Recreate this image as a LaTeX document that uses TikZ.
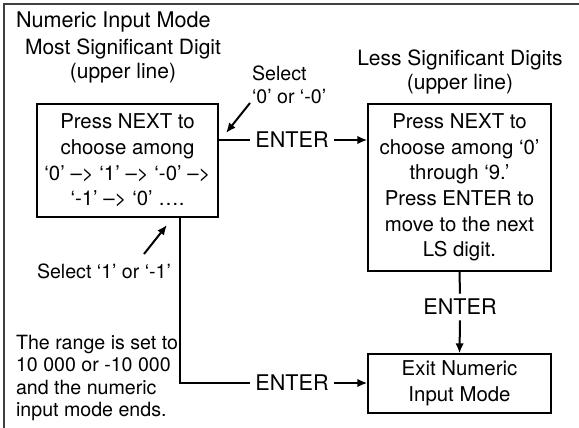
\documentclass[tikz,border=0pt]{standalone}
\usepackage{fontspec}
\setmainfont{TeX Gyre Heros}
\usetikzlibrary{arrows.meta}
\tikzset{
    box/.style={draw, line width=0.6pt, align=center, inner sep=0pt, font=\fontsize{10.2}{12.8}\selectfont},
    flow/.style={line width=1pt},
    tip/.style={-{Latex[length=5pt,width=4.2pt]}},
    key/.style={inner sep=2.5pt, font=\fontsize{10.8}{12}\selectfont},
    head/.style={align=center, font=\fontsize{10.5}{11.8}\selectfont},
    note/.style={font=\fontsize{9.8}{11.2}\selectfont}
}

\begin{document}
\begin{tikzpicture}[x=0.5pt,y=-0.5pt]
\useasboundingbox (0,0) rectangle (579,428);
\draw[line width=0.9pt, black!75] (4,428) -- (4,4) -- (579,4);
% headings
\node[anchor=west, font=\fontsize{10.8}{12}\selectfont] (mode) at (9,22) {Numeric Input Mode};
\node[head] (msd) at (123,61) {Most Significant Digit\\(upper line)};
\node[head] (lsd) at (460,72) {Less Significant Digits\\(upper line)};
% boxes
\node[box, minimum width=90.5pt, minimum height=56.5pt] (msdbox) at (127.5,160.5)
    {Press NEXT to\\choose among\\`0' --> `1' --> `-0' -->\\`-1' --> `0' \dots.};
\node[box, minimum width=91.5pt, minimum height=83.5pt] (lsdbox) at (459.5,187.5)
    {Press NEXT to\\choose among `0'\\through `9.'\\Press ENTER to\\move to the next\\LS digit.};
\node[box, minimum width=91.5pt, minimum height=29.5pt] (exitbox) at (459.5,383.5)
    {Exit Numeric\\Input Mode};
% ENTER keys
\node[key] (enterA) at (292,140) {ENTER};
\node[key] (enterB) at (460,307) {ENTER};
\node[key] (enterC) at (292,383) {ENTER};
\draw[flow] (msdbox.east |- enterA) -- (enterA.west);
\draw[flow,tip] (enterA.east) -- (lsdbox.west |- enterA);
\draw[flow] (lsdbox.south) -- (enterB.north);
\draw[flow,tip] (enterB.south) -- (exitbox.north);
\coordinate (corner) at (180,383);
\draw[flow] (msdbox.south -| corner) -- (corner) -- (enterC.west);
\draw[flow,tip] (enterC.east) -- (exitbox.west |- enterC);
% notes
\node[note, anchor=west, align=left] (selA) at (245,85) {Select\\`0' or `-0'};
\node[note] (selB) at (104,271) {Select `1' or `-1'};
\node[note, anchor=west, align=left] (range) at (9,378)
    {The range is set to\\10 000 or -10 000\\and the numeric\\input mode ends.};
\coordinate (tailA) at (250,103);
\coordinate (headA) at (226,133);
\coordinate (tailB) at (144,254);
\coordinate (headB) at (167,225);
\draw[flow,tip] (tailA) -- (headA);
\draw[flow,tip] (tailB) -- (headB);
\end{tikzpicture}
\end{document}
